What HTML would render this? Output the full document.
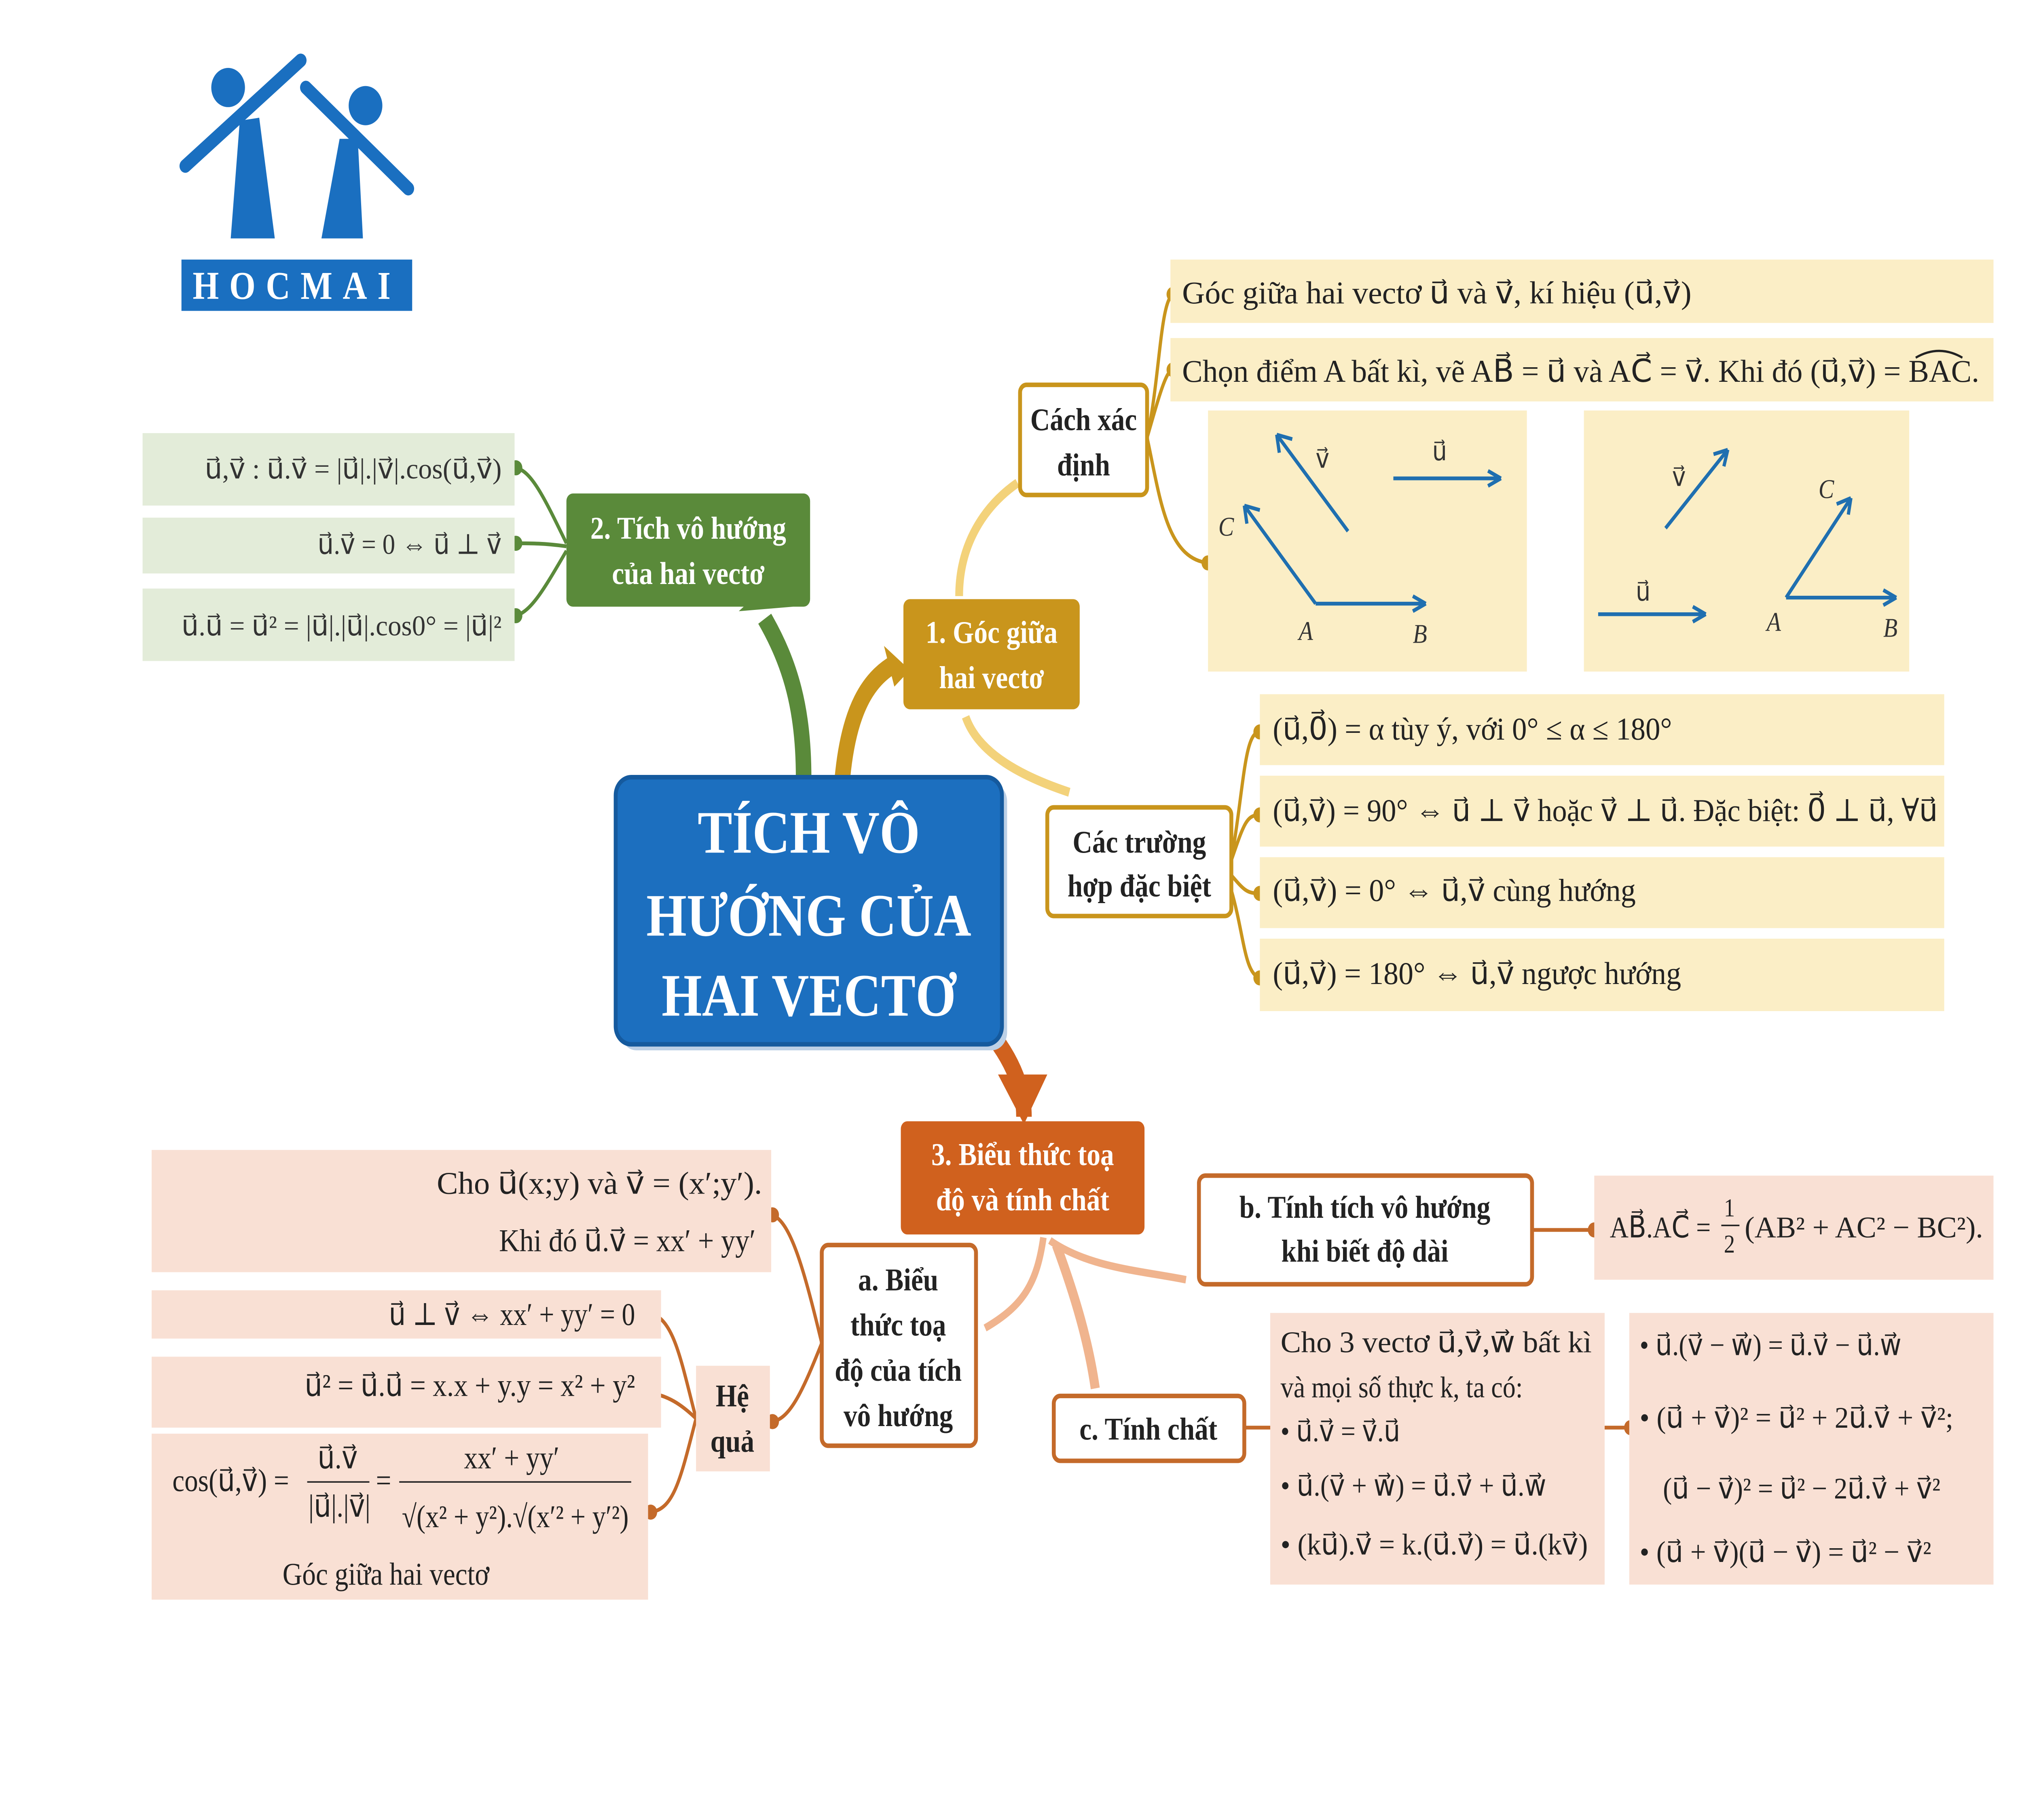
<!DOCTYPE html>
<html><head><meta charset="utf-8">
<style>
html,body{margin:0;padding:0;background:#fff;overflow:hidden;width:100%;height:100%;}
svg{display:block;width:100vw;height:100vh;}
text{font-family:"Liberation Serif","DejaVu Serif",serif;}
.b{font-weight:bold;}
</style></head>
<body>
<svg viewBox="0 0 1560 1206" preserveAspectRatio="none" xmlns="http://www.w3.org/2000/svg">
<rect width="1560" height="1206" fill="#fff"/>
<!-- logo -->
<g fill="#1a6fc0" stroke="#1a6fc0">
<circle cx="176" cy="58" r="13" stroke="none"/>
<circle cx="282" cy="70" r="13" stroke="none"/>
<line x1="143" y1="110" x2="232" y2="40" stroke-width="9" stroke-linecap="round"/>
<line x1="236" y1="58" x2="315" y2="125" stroke-width="9" stroke-linecap="round"/>
<polygon points="185,80 200,78 212,158 178,158" stroke="none"/>
<polygon points="262,92 276,92 280,158 248,158" stroke="none"/>
</g>
<rect x="140" y="172" width="178" height="34" fill="#1a6fc0"/>
<text x="229" y="198" fill="#fff" font-family="Liberation Sans,sans-serif" font-weight="bold" font-size="26" text-anchor="middle" letter-spacing="8">HOCMAI</text>

<!-- thick branches -->
<path d="M620 515 C620 470 610 440 590 410" stroke="#5a8a3a" stroke-width="12" fill="none"/>
<polygon points="570,405 612,402 595,385" fill="#5a8a3a"/>
<path d="M650 515 C655 470 670 450 690 440" stroke="#c9951c" stroke-width="12" fill="none"/>
<polygon points="682,428 702,444 690,455" fill="#c9951c"/>
<path d="M760 680 C780 700 790 720 790 740" stroke="#d0611e" stroke-width="12" fill="none"/>
<polygon points="770,712 808,712 790,745" fill="#d0611e"/>
<path d="M740 395 C740 360 760 335 785 320" stroke="#f3d27a" stroke-width="6" fill="none"/>
<path d="M745 475 C755 500 790 515 825 525" stroke="#f3d27a" stroke-width="6" fill="none"/>
<path d="M805 820 C800 850 790 865 760 880" stroke="#f0b48e" stroke-width="5" fill="none"/>
<path d="M810 822 C840 840 880 842 915 848" stroke="#f0b48e" stroke-width="5" fill="none"/>
<path d="M815 825 C830 860 840 890 845 920" stroke="#f0b48e" stroke-width="7" fill="none"/>

<!-- thin connectors -->
<g fill="none" stroke-width="2.5">
<path d="M885 290 C895 250 895 200 905 195 M885 290 C895 260 900 245 905 245 M885 290 C895 330 900 370 932 373" stroke="#c9951c"/>
<path d="M950 570 C960 520 960 485 972 485 M950 570 C960 545 962 540 972 540 M950 580 C960 590 962 592 972 592 M950 590 C960 620 960 645 972 648" stroke="#c9951c"/>
<path d="M437 360 C420 330 410 312 398 310 M437 362 C420 360 410 360 398 360 M437 365 C420 390 410 405 398 408" stroke="#5a8a3a"/>
<path d="M634 890 C620 840 610 810 596 805 M634 890 C620 920 610 940 596 942" stroke="#c46a2a"/>
<path d="M537 940 C525 900 520 875 502 870 M537 940 C525 930 515 925 502 923 M537 940 C525 980 520 1000 502 1002" stroke="#c46a2a"/>
<path d="M1182 815 L1230 815" stroke="#c46a2a"/>
<path d="M960 946 L985 946 M1238 946 L1258 946" stroke="#c46a2a"/>
</g>
<g fill="#c9951c"><circle cx="905" cy="195" r="5"/><circle cx="905" cy="245" r="5"/><circle cx="932" cy="373" r="5"/>
<circle cx="972" cy="485" r="5"/><circle cx="972" cy="540" r="5"/><circle cx="972" cy="592" r="5"/><circle cx="972" cy="648" r="5"/></g>
<g fill="#5a8a3a"><circle cx="398" cy="310" r="5"/><circle cx="398" cy="360" r="5"/><circle cx="398" cy="408" r="5"/></g>
<g fill="#c46a2a"><circle cx="596" cy="805" r="5"/><circle cx="596" cy="942" r="5"/><circle cx="502" cy="870" r="5"/><circle cx="502" cy="923" r="5"/><circle cx="502" cy="1002" r="5"/><circle cx="1230" cy="815" r="5"/><circle cx="985" cy="946" r="5"/><circle cx="1258" cy="946" r="5"/></g>

<!-- central -->
<rect x="479" y="519" width="298" height="177" rx="12" fill="#bcd0e6"/>
<rect x="475" y="515" width="298" height="177" rx="12" fill="#1c6fbf" stroke="#155a9e" stroke-width="3"/>
<g fill="#fff" font-size="40" text-anchor="middle" class="b"><text x="624" y="565">TÍCH VÔ</text><text x="624" y="620">HƯỚNG CỦA</text><text x="624" y="673">HAI VECTƠ</text></g>

<!-- node 2 -->
<rect x="437" y="327" width="188" height="75" rx="5" fill="#5a8a3a"/>
<g fill="#fff" font-size="21" text-anchor="middle" class="b"><text x="531" y="357">2. Tích vô hướng</text><text x="531" y="387">của hai vectơ</text></g>
<g fill="#e3ecd9"><rect x="110" y="287" width="287" height="48"/><rect x="110" y="343" width="287" height="37"/><rect x="110" y="390" width="287" height="48"/></g>
<g font-size="19" fill="#333">
<text x="158" y="317" textLength="229" lengthAdjust="spacingAndGlyphs">u⃗,v⃗ : u⃗.v⃗ = |u⃗|.|v⃗|.cos(u⃗,v⃗)</text>
<text x="245" y="367" textLength="142" lengthAdjust="spacingAndGlyphs">u⃗.v⃗ = 0 ⇔ u⃗ ⊥ v⃗</text>
<text x="140" y="421" textLength="247" lengthAdjust="spacingAndGlyphs">u⃗.u⃗ = u⃗² = |u⃗|.|u⃗|.cos0° = |u⃗|²</text></g>

<!-- node 1 -->
<rect x="697" y="397" width="136" height="73" rx="5" fill="#c9951c"/>
<g fill="#fff" font-size="21" text-anchor="middle" class="b"><text x="765" y="426">1. Góc giữa</text><text x="765" y="456">hai vectơ</text></g>
<rect x="787" y="255" width="98" height="73" rx="5" fill="#fff" stroke="#c9951c" stroke-width="3"/>
<g font-size="21" text-anchor="middle" fill="#222" class="b"><text x="836" y="285">Cách xác</text><text x="836" y="315">định</text></g>
<g fill="#fbeec6"><rect x="903" y="172" width="635" height="42"/><rect x="903" y="224" width="635" height="42"/>
<rect x="932" y="272" width="246" height="173"/><rect x="1222" y="272" width="251" height="173"/></g>
<g font-size="21" fill="#222"><text x="912" y="201" textLength="393" lengthAdjust="spacingAndGlyphs">Góc giữa hai vectơ u⃗ và v⃗, kí hiệu (u⃗,v⃗)</text>
<text x="912" y="253" textLength="615" lengthAdjust="spacingAndGlyphs">Chọn điểm A bất kì, vẽ AB⃗ = u⃗ và AC⃗ = v⃗. Khi đó (u⃗,v⃗) = BAC.</text></g>
<path d="M1478 237 Q1496 228 1514 237" stroke="#222" fill="none" stroke-width="1.5"/>
<g stroke="#1f6fb0" stroke-width="2.5" fill="none">
<path d="M1040 352 L985 288 M985 288 l2 12 M985 288 l12 3"/>
<path d="M1075 317 L1158 317 M1158 317 l-10 -5 M1158 317 l-10 5"/>
<path d="M1015 400 L960 335 M960 335 l2 12 M960 335 l12 3"/>
<path d="M1015 400 L1100 400 M1100 400 l-10 -5 M1100 400 l-10 5"/>
<path d="M1285 350 L1333 298 M1333 298 l-11 3 M1333 298 l-3 11"/>
<path d="M1233 407 L1316 407 M1316 407 l-10 -5 M1316 407 l-10 5"/>
<path d="M1378 396 L1428 330 M1428 330 l-11 4 M1428 330 l-2 11"/>
<path d="M1378 396 L1463 396 M1463 396 l-10 -5 M1463 396 l-10 5"/>
</g>
<g font-size="18" fill="#333"><text x="1015" y="310">v⃗</text><text x="1105" y="305">u⃗</text><text x="940" y="355" font-style="italic">C</text>
<text x="1002" y="424" font-style="italic">A</text><text x="1090" y="426" font-style="italic">B</text><text x="1290" y="322">v⃗</text><text x="1262" y="398">u⃗</text>
<text x="1403" y="330" font-style="italic">C</text><text x="1363" y="418" font-style="italic">A</text><text x="1453" y="422" font-style="italic">B</text></g>

<!-- special cases -->
<rect x="808" y="535" width="142" height="72" rx="5" fill="#fff" stroke="#c9951c" stroke-width="3"/>
<g font-size="21" text-anchor="middle" fill="#222" class="b"><text x="879" y="565">Các trường</text><text x="879" y="594">hợp đặc biệt</text></g>
<g fill="#fbeec6"><rect x="972" y="460" width="528" height="47"/><rect x="972" y="514" width="528" height="47"/><rect x="972" y="568" width="528" height="47"/><rect x="972" y="622" width="528" height="48"/></g>
<g font-size="21" fill="#222"><text x="982" y="490" textLength="308" lengthAdjust="spacingAndGlyphs">(u⃗,0⃗) = α tùy ý, với 0° ≤ α ≤ 180°</text>
<text x="982" y="544" textLength="513" lengthAdjust="spacingAndGlyphs">(u⃗,v⃗) = 90° ⇔ u⃗ ⊥ v⃗ hoặc v⃗ ⊥ u⃗. Đặc biệt: 0⃗ ⊥ u⃗, ∀u⃗</text>
<text x="982" y="597" textLength="280" lengthAdjust="spacingAndGlyphs">(u⃗,v⃗) = 0° ⇔ u⃗,v⃗ cùng hướng</text>
<text x="982" y="652" textLength="315" lengthAdjust="spacingAndGlyphs">(u⃗,v⃗) = 180° ⇔ u⃗,v⃗ ngược hướng</text></g>

<!-- node 3 -->
<rect x="695" y="743" width="188" height="75" rx="5" fill="#d0611e"/>
<g fill="#fff" font-size="21" text-anchor="middle" class="b"><text x="789" y="772">3. Biểu thức toạ</text><text x="789" y="802">độ và tính chất</text></g>
<rect x="925" y="779" width="257" height="72" rx="5" fill="#fff" stroke="#c46a2a" stroke-width="3"/>
<g font-size="21" text-anchor="middle" fill="#222" class="b"><text x="1053" y="807">b. Tính tích vô hướng</text><text x="1053" y="836">khi biết độ dài</text></g>
<rect x="1230" y="779" width="308" height="69" fill="#f9e0d4"/>
<g font-size="20" fill="#222"><text x="1242" y="820">AB⃗.AC⃗ =</text>
<text x="1330" y="806" font-size="17">1</text><line x1="1328" y1="812" x2="1342" y2="812" stroke="#222"/><text x="1330" y="830" font-size="17">2</text>
<text x="1346" y="820" textLength="184" lengthAdjust="spacingAndGlyphs">(AB² + AC² − BC²).</text></g>
<rect x="634" y="825" width="119" height="133" rx="5" fill="#fff" stroke="#c46a2a" stroke-width="3"/>
<g font-size="21" text-anchor="middle" fill="#222" class="b"><text x="693" y="855">a. Biểu</text><text x="693" y="885">thức toạ</text><text x="693" y="915">độ của tích</text><text x="693" y="945">vô hướng</text></g>
<rect x="813" y="925" width="147" height="43" rx="5" fill="#fff" stroke="#c46a2a" stroke-width="3"/>
<text x="886" y="954" font-size="21" text-anchor="middle" fill="#222" class="b">c. Tính chất</text>
<g fill="#f9e0d4"><rect x="980" y="870" width="258" height="180"/><rect x="1257" y="870" width="281" height="180"/>
<rect x="117" y="762" width="478" height="81"/><rect x="117" y="855" width="393" height="32"/><rect x="117" y="899" width="393" height="47"/><rect x="117" y="950" width="383" height="110"/><rect x="537" y="905" width="57" height="70"/></g>
<g font-size="20" fill="#222"><text x="988" y="896" textLength="240" lengthAdjust="spacingAndGlyphs">Cho 3 vectơ u⃗,v⃗,w⃗ bất kì</text><text x="988" y="926">và mọi số thực k, ta có:</text>
<text x="988" y="955">• u⃗.v⃗ = v⃗.u⃗</text><text x="988" y="991" textLength="205" lengthAdjust="spacingAndGlyphs">• u⃗.(v⃗ + w⃗) = u⃗.v⃗ + u⃗.w⃗</text><text x="988" y="1030" textLength="237" lengthAdjust="spacingAndGlyphs">• (ku⃗).v⃗ = k.(u⃗.v⃗) = u⃗.(kv⃗)</text>
<text x="1265" y="898" textLength="202" lengthAdjust="spacingAndGlyphs">• u⃗.(v⃗ − w⃗) = u⃗.v⃗ − u⃗.w⃗</text><text x="1265" y="946" textLength="242" lengthAdjust="spacingAndGlyphs">• (u⃗ + v⃗)² = u⃗² + 2u⃗.v⃗ + v⃗²;</text>
<text x="1283" y="993" textLength="214" lengthAdjust="spacingAndGlyphs">(u⃗ − v⃗)² = u⃗² − 2u⃗.v⃗ + v⃗²</text><text x="1265" y="1035" textLength="225" lengthAdjust="spacingAndGlyphs">• (u⃗ + v⃗)(u⃗ − v⃗) = u⃗² − v⃗²</text></g>
<g font-size="21" fill="#222"><text x="337" y="791" textLength="251" lengthAdjust="spacingAndGlyphs">Cho u⃗(x;y) và v⃗ = (x′;y′).</text><text x="385" y="829" textLength="198" lengthAdjust="spacingAndGlyphs">Khi đó u⃗.v⃗ = xx′ + yy′</text>
<text x="300" y="878" textLength="190" lengthAdjust="spacingAndGlyphs">u⃗ ⊥ v⃗ ⇔ xx′ + yy′ = 0</text><text x="235" y="925" textLength="255" lengthAdjust="spacingAndGlyphs">u⃗² = u⃗.u⃗ = x.x + y.y = x² + y²</text></g>
<g font-size="21" fill="#222"><text x="133" y="988">cos(u⃗,v⃗) =</text>
<text x="245" y="973">u⃗.v⃗</text><line x1="237" y1="982" x2="285" y2="982" stroke="#222"/><text x="238" y="1005">|u⃗|.|v⃗|</text>
<text x="290" y="988">=</text><text x="358" y="973">xx′ + yy′</text><line x1="308" y1="982" x2="487" y2="982" stroke="#222"/>
<text x="310" y="1012" textLength="175" lengthAdjust="spacingAndGlyphs">√(x² + y²).√(x′² + y′²)</text>
<text x="218" y="1050">Góc giữa hai vectơ</text></g>
<g font-size="21" text-anchor="middle" fill="#222" class="b"><text x="565" y="932">Hệ</text><text x="565" y="962">quả</text></g>
</svg>
</body></html>
